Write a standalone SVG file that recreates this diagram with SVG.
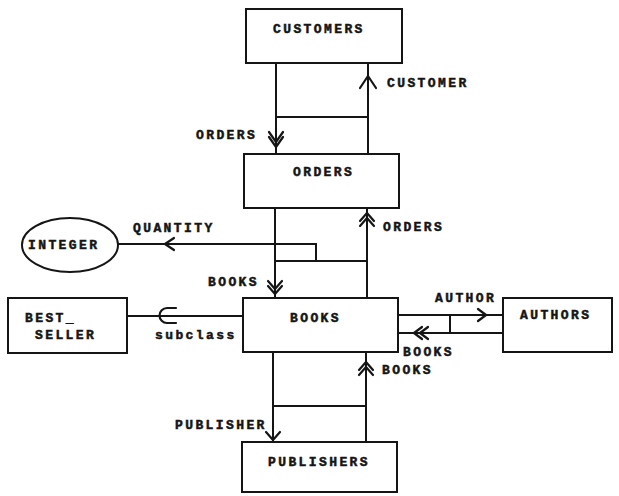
<svg xmlns="http://www.w3.org/2000/svg" width="619" height="496" viewBox="0 0 619 496">
<style>
.box{fill:#fff;stroke:#151515;stroke-width:2}
.ln{fill:none;stroke:#151515;stroke-width:2;stroke-linejoin:miter}
.ah{fill:none;stroke:#151515;stroke-width:2.2;stroke-linecap:round;stroke-linejoin:round}
text{font-family:"Liberation Mono","DejaVu Sans Mono",monospace;font-weight:bold;font-size:13px;letter-spacing:2.4px;fill:#151515;stroke:#151515;stroke-width:0.5}
</style>
<rect width="619" height="496" fill="#fff"/>
<g id="connectors">
  <path class="ln" d="M276,63V153M368,63V153M276,117H368"/>
  <path class="ln" d="M275,208V298M367,208V298M275,261H367"/>
  <path class="ln" d="M316,261V244H118"/>
  <path class="ln" d="M127,316H243"/>
  <path class="ln" d="M398,315H503M398,333H503M450,315V333"/>
  <path class="ln" d="M273,352V442M366,352V442M273,406H366"/>
  <polyline class="ah" points="360,88 368,76 376,88"/>
  <polyline class="ah" points="269,132 276,142 283,132"/>
  <polyline class="ah" points="269,137 276,147 283,137"/>
  <polyline class="ah" points="360,221 367,213 374,221"/>
  <polyline class="ah" points="360,226 367,218 374,226"/>
  <polyline class="ah" points="174,238 165,244 174,250"/>
  <polyline class="ah" points="268,281 275,289 282,281"/>
  <polyline class="ah" points="268,286 275,294 282,286"/>
  <path class="ah" d="M176,308H167A7.5,7.5 0 0 0 167,323H176"/>
  <polyline class="ah" points="478,309 486,315 478,321"/>
  <polyline class="ah" points="422,327 414,333 422,339"/>
  <polyline class="ah" points="428,327 420,333 428,339"/>
  <polyline class="ah" points="359,370 366,362 373,370"/>
  <polyline class="ah" points="359,375 366,367 373,375"/>
  <polyline class="ah" points="266,432 273,440 280,432"/>
  <text x="387" y="87">CUSTOMER</text>
  <text x="196" y="139">ORDERS</text>
  <text x="383" y="231">ORDERS</text>
  <text x="133" y="232">QUANTITY</text>
  <text x="208" y="286">BOOKS</text>
  <text x="155" y="339">subclass</text>
  <text x="435" y="302">AUTHOR</text>
  <text x="403" y="356">BOOKS</text>
  <text x="382" y="374">BOOKS</text>
  <text x="175" y="429">PUBLISHER</text>
</g>
<g id="customers">
  <rect class="box" x="246" y="9" width="156" height="54"/>
  <text x="273" y="33">CUSTOMERS</text>
</g>
<g id="orders">
  <rect class="box" x="244" y="154" width="155" height="54"/>
  <text x="293" y="176">ORDERS</text>
</g>
<g id="integer">
  <ellipse class="box" cx="70" cy="245" rx="48" ry="27"/>
  <text x="28" y="249">INTEGER</text>
</g>
<g id="books">
  <rect class="box" x="243" y="298" width="155" height="54"/>
  <text x="290" y="322">BOOKS</text>
</g>
<g id="best_seller">
  <rect class="box" x="8" y="298" width="119" height="55"/>
  <text x="25" y="322">BEST_</text>
  <text x="35" y="339">SELLER</text>
</g>
<g id="authors">
  <rect class="box" x="503" y="298" width="109" height="54"/>
  <text x="520" y="319">AUTHORS</text>
</g>
<g id="publishers">
  <rect class="box" x="242" y="442" width="155" height="50"/>
  <text x="268" y="466">PUBLISHERS</text>
</g>
</svg>
